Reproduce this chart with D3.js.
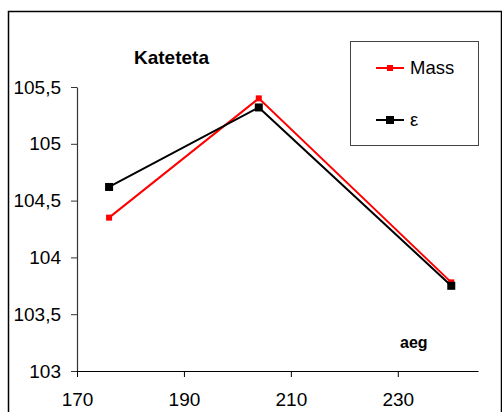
<!DOCTYPE html>
<html>
<head>
<meta charset="utf-8">
<script src="https://cdn.jsdelivr.net/npm/d3@7"></script>
<style>
  html, body { margin: 0; padding: 0; background: #fff; }
  svg { display: block; font-family: "Liberation Sans", Arial, sans-serif; }
</style>
</head>
<body>
<svg id="chart" width="502" height="412"></svg>
<script>
// Age (x) and the two measured series
const ages = [176, 204, 240];
const massValues = [104.35, 105.4, 103.78];
const epsValues = [104.62, 105.32, 103.75];

const xTicks = [170, 190, 210, 230];
const yTicks = [103, 103.5, 104, 104.5, 105, 105.5];

const seriesNames = ["Mass", "\u03B5"];
const seriesColors = ["#ff0000", "#000000"];

const svg = d3.select("#chart");

// outer frame
svg.append("rect")
  .attr("x", 8.5).attr("y", 11.5)
  .attr("width", 493).attr("height", 420)
  .attr("fill", "none").attr("stroke", "#000").attr("stroke-width", 1.5);

const x = d3.scaleLinear().domain([170, 245]).range([77, 478]);
const y = d3.scaleLinear().domain([103, 105.5]).range([371, 87]);

const fmt = d => String(d).replace(".", ",");

// y axis
const gy = svg.append("g")
  .attr("transform", "translate(77,0)")
  .call(d3.axisLeft(y).tickValues(yTicks).tickFormat(fmt)
    .tickSize(6).tickSizeOuter(0).tickPadding(10));
gy.select(".domain").attr("stroke", "#333").attr("stroke-width", 1.2);
gy.selectAll(".tick line").attr("stroke", "#333");
gy.selectAll(".tick text")
  .attr("font-size", 19).attr("fill", "#000")
  .attr("font-family", "'Liberation Sans', Arial, sans-serif");

// x axis
const gx = svg.append("g")
  .attr("transform", "translate(0,371)")
  .call(d3.axisBottom(x).tickValues(xTicks).tickFormat(d => d)
    .tickSize(6).tickSizeOuter(0).tickPadding(16));
gx.select(".domain").attr("stroke", "#000").attr("stroke-width", 1.2);
gx.selectAll(".tick line").attr("stroke", "#000");
gx.selectAll(".tick text")
  .attr("font-size", 19).attr("fill", "#000")
  .attr("font-family", "'Liberation Sans', Arial, sans-serif");

// series lines and markers
const line = d3.line().x(d => x(d[0])).y(d => y(d[1]));
const series = [massValues, epsValues];
const markerSize = [6, 8];

series.forEach((vals, i) => {
  const pts = ages.map((a, j) => [a, vals[j]]);
  svg.append("path")
    .datum(pts)
    .attr("d", line)
    .attr("fill", "none")
    .attr("stroke", seriesColors[i])
    .attr("stroke-width", 2);
  svg.append("g").selectAll("rect")
    .data(pts)
    .join("rect")
    .attr("x", d => x(d[0]) - markerSize[i] / 2)
    .attr("y", d => y(d[1]) - markerSize[i] / 2)
    .attr("width", markerSize[i])
    .attr("height", markerSize[i])
    .attr("fill", seriesColors[i]);
});

// title and axis caption
svg.append("text")
  .attr("x", 134).attr("y", 64)
  .attr("font-size", 19).attr("font-weight", "bold")
  .text("Kateteta");

svg.append("text")
  .attr("x", 400).attr("y", 348)
  .attr("font-size", 16).attr("font-weight", "bold")
  .text("aeg");

// legend
const legend = svg.append("g");
legend.append("rect")
  .attr("x", 350.5).attr("y", 41.5)
  .attr("width", 128).attr("height", 104)
  .attr("fill", "#fff").attr("stroke", "#444").attr("stroke-width", 1);

const legendY = [68, 120];
seriesNames.forEach((name, i) => {
  legend.append("line")
    .attr("x1", 376).attr("x2", 404)
    .attr("y1", legendY[i]).attr("y2", legendY[i])
    .attr("stroke", seriesColors[i]).attr("stroke-width", 2);
  legend.append("rect")
    .attr("x", 390 - markerSize[i] / 2).attr("y", legendY[i] - markerSize[i] / 2)
    .attr("width", markerSize[i]).attr("height", markerSize[i])
    .attr("fill", seriesColors[i]);
  legend.append("text")
    .attr("x", 410).attr("y", legendY[i] + 6)
    .attr("font-size", 18.5)
    .text(name);
});
</script>
</body>
</html>
